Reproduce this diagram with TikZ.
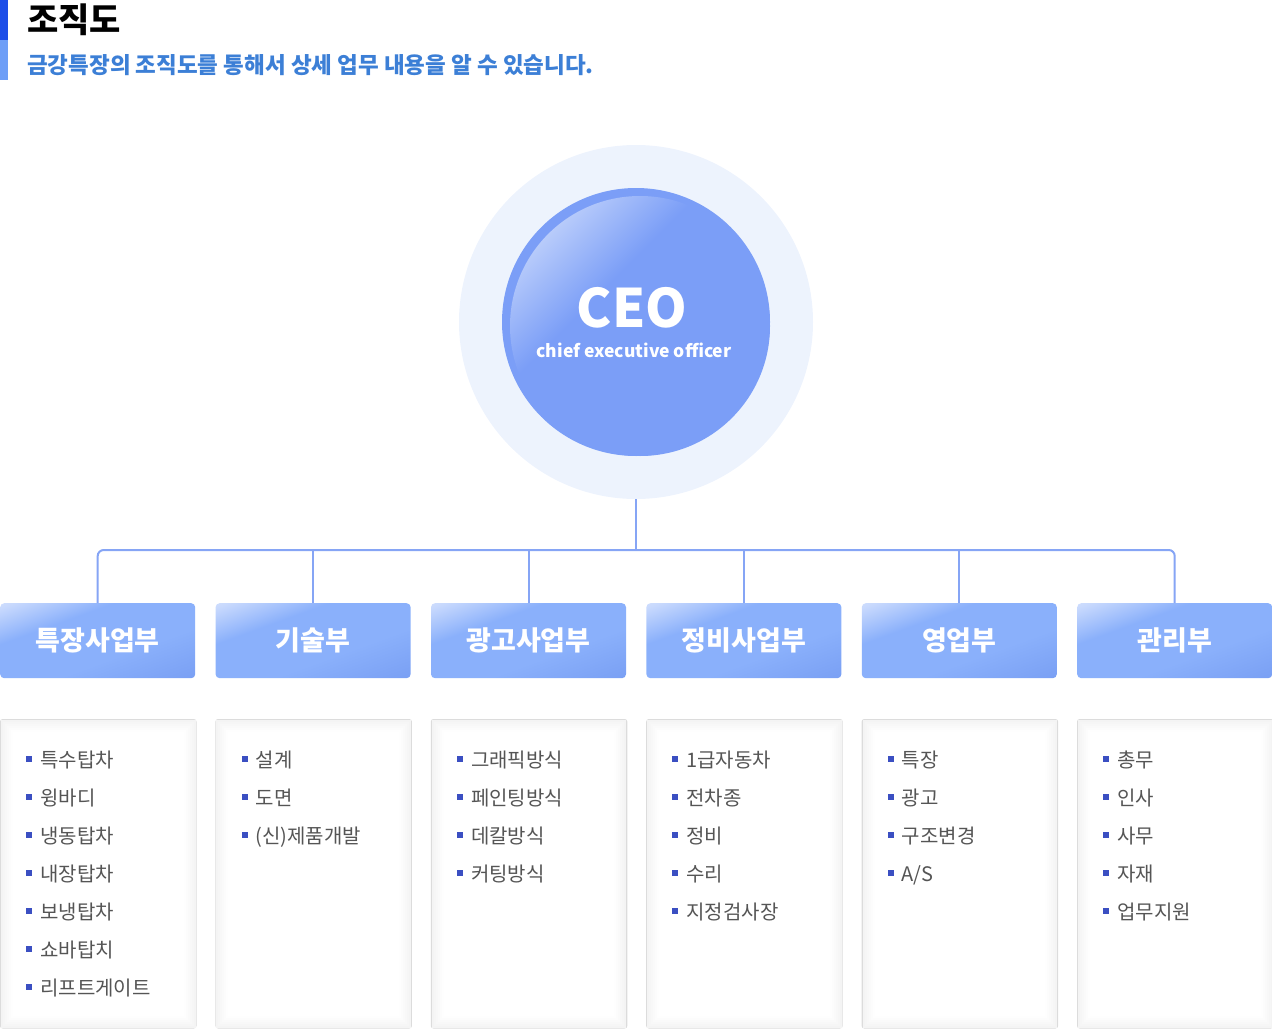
\documentclass[tikz,border=0pt]{standalone}
\usepackage{fontspec}
\setmainfont{Noto Sans CJK KR}
\usetikzlibrary{positioning,calc}

\definecolor{ceoblue}{HTML}{7B9EF7}
\definecolor{ringblue}{HTML}{EDF3FD}
\definecolor{ceolight}{HTML}{E4ECFD}
\definecolor{linkblue}{HTML}{86A5F5}
\definecolor{barblue}{HTML}{1D4EE8}
\definecolor{barlight}{HTML}{6D9EF7}
\definecolor{subblue}{HTML}{3C7FD6}
\definecolor{itemgray}{HTML}{555555}
\definecolor{bulletblue}{HTML}{3B4FC2}
\definecolor{boxline}{HTML}{DCDCDC}
\definecolor{boxshade}{HTML}{F2F2F2}
\definecolor{deptdark}{HTML}{6C92EE}
\definecolor{deptblue}{HTML}{8AB0FB}
\definecolor{deptlight}{HTML}{C8D9FD}

\pgfdeclareverticalshading{ceoshine}{100bp}{color(0bp)=(ceoblue); color(60bp)=(ceoblue); color(86bp)=(ceolight); color(100bp)=(white)}
\pgfdeclareverticalshading{deptshine}{100bp}{color(0bp)=(deptdark); color(40bp)=(deptblue); color(64bp)=(deptblue); color(80bp)=(deptlight); color(100bp)=(white)}

\begin{document}
\begin{tikzpicture}[x=1pt,y=-1pt,
  link/.style={linkblue, line width=2pt},
  dept/.style={anchor=north west, rounded corners=4pt, minimum width=195pt, minimum height=75pt, shade, shading=deptshine, shading angle=20, text=white, font=\fontsize{27}{27}\selectfont\bfseries},
  listbox/.style={anchor=north west, draw=boxline, line width=1.5pt, fill=white, rounded corners=2pt, minimum width=195pt, minimum height=308pt},
  item/.style={anchor=base west, inner sep=0pt, text=itemgray, font=\fontsize{20}{20}\selectfont}]
  \useasboundingbox (0,0) rectangle (1272,1030);
  % title
  \fill[barblue] (0,0) rectangle (8,40);
  \fill[barlight] (0,40) rectangle (8,80);
  \node[anchor=base west, inner sep=0pt, font=\fontsize{34}{34}\selectfont\bfseries] (title) at (27,33) {조직도};
  \node[anchor=base west, inner sep=0pt, text=subblue, font=\fontsize{22.5}{22.5}\selectfont\bfseries] (subtitle) at (27,74) {금강특장의 조직도를 통해서 상세 업무 내용을 알 수 있습니다.};
  % ceo
  \node[circle, fill=ringblue, minimum size=354pt] (ring) at (636,322) {};
  \node[circle, fill=ceoblue, minimum size=268pt] (ceo) at (ring) {};
  \shade[shading=ceoshine, shading angle=45] ($(ceo.center)+(4,4)$) circle (130pt);
  \node[anchor=base, text=white, font=\fontsize{53}{53}\selectfont\bfseries] (ceo-title) at (632,327) {CEO};
  \node[anchor=base, text=white, font=\fontsize{17.5}{17.5}\selectfont\bfseries] (ceo-sub) at (634,357) {chief executive officer};
  % departments and their tasks
  \coordinate (hub) at (636,550);
  \foreach \dname/\items [count=\i] in {특장사업부/{특수탑차,윙바디,냉동탑차,내장탑차,보냉탑차,쇼바탑치,리프트게이트},
      기술부/{설계,도면,(신)제품개발},
      광고사업부/{그래픽방식,페인팅방식,데칼방식,커팅방식},
      정비사업부/{1급자동차,전차종,정비,수리,지정검사장},
      영업부/{특장,광고,구조변경,A/S},
      관리부/{총무,인사,사무,자재,업무지원}} {
    \pgfmathsetmacro\xl{(\i-1)*215.4}
    \node[dept] (d\i) at (\xl,603) {\dname};
    \node[listbox] (l\i) at (\xl,719) {};
    \foreach \k in {1,...,6}
      \draw[boxshade!\the\numexpr 100-16*\k\relax!white, line width=2pt] ($(l\i.north west)+(2*\k,2*\k)$) rectangle ($(l\i.south east)+(-2*\k,-2*\k)$);
    \foreach \t [count=\j] in \items
      \node[item] (l\i-\j) at ($(l\i.north west)+(26,48+38*\j-38)$) {\textcolor{bulletblue}{\rule[5pt]{6pt}{6pt}}\hspace{8pt}\t};
  }
  \draw[link, rounded corners=6pt] (d1.north) |- (hub) -| (d6.north);
  \foreach \i in {2,...,5}
    \draw[link] (d\i.north) -- (d\i.north |- hub);
  \draw[link] (ring.south) -- (hub);
\end{tikzpicture}
\end{document}
